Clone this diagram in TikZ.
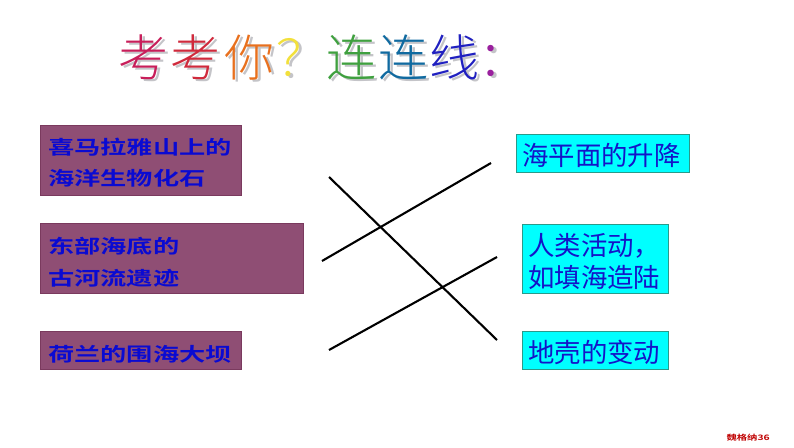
\documentclass[tikz,border=0pt]{standalone}
\usepackage{fontspec}
\setmainfont{Noto Sans CJK SC}
\newfontfamily\cjkreg{Noto Sans CJK SC}
\newfontfamily\cjkbold{Noto Sans CJK SC Bold}[FakeStretch=1.38]
\newfontfamily\cjklight{Noto Sans CJK SC Light}
\definecolor{leftfill}{HTML}{8F4E74}
\definecolor{leftedge}{HTML}{7A3A5E}
\definecolor{rightfill}{HTML}{00FFFF}
\definecolor{rightedge}{HTML}{2A9A8A}
\definecolor{lefttext}{HTML}{0A0AD2}
\definecolor{righttext}{HTML}{1414C8}
\definecolor{tA}{HTML}{C81E5A}
\definecolor{tB}{HTML}{D02A3C}
\definecolor{tC}{HTML}{E8701E}
\definecolor{tD}{HTML}{F2E03C}
\definecolor{tE}{HTML}{3FA03F}
\definecolor{tF}{HTML}{106AA0}
\definecolor{tG}{HTML}{2020C0}
\definecolor{tH}{HTML}{9A209E}
\definecolor{tshadow}{HTML}{C4C4C8}
\tikzset{
  leftbox/.style={draw=leftedge,fill=leftfill,line width=1pt},
  rightbox/.style={draw=rightedge,fill=rightfill,line width=1pt},
  lefttxt/.style={anchor=west,inner sep=0pt,text=lefttext,font=\cjkbold\fontsize{19}{19}\selectfont},
  righttxt/.style={anchor=west,inner sep=0pt,text=righttext,font=\cjkreg\fontsize{26.4}{26.4}\selectfont},
  crossline/.style={draw=black,line width=2.1pt},
  titletxt/.style={anchor=west,inner sep=0pt,font=\cjklight\fontsize{50}{50}\selectfont}
}
\newcommand{\tch}[3]{\makebox[#1pt][l]{\textcolor{#2}{#3}}}
\newcommand{\titlerow}[8]{%
  \tch{52}{#1}{考}\tch{54}{#2}{考}\tch{52}{#3}{你}\tch{50}{#4}{？}%
  \tch{52}{#5}{连}\tch{51}{#6}{连}\tch{49}{#7}{线}\tch{50}{#8}{：}}
\begin{document}
\begin{tikzpicture}[x=1pt,y=-1pt]
\useasboundingbox (0,0) rectangle (794,447);
% title: shadow row, then coloured row
\node[titletxt] (titleshadow) at (121,59) {\titlerow{tshadow}{tshadow}{tshadow}{tshadow}{tshadow}{tshadow}{tshadow}{tshadow}};
\node[titletxt] (title) at (118,57) {\titlerow{tA}{tB}{tC}{tD}{tE}{tF}{tG}{tH}};
% left boxes
\path[leftbox] (40,125) rectangle (241,195);
\path[leftbox] (40,223) rectangle (303,293);
\path[leftbox] (40,331) rectangle (241,369);
\node[lefttxt] (l1a) at (48,147) {喜马拉雅山上的};
\node[lefttxt] (l1b) at (48,178) {海洋生物化石};
\node[lefttxt] (l2a) at (48,246) {东部海底的};
\node[lefttxt] (l2b) at (48,278) {古河流遗迹};
\node[lefttxt] (l3) at (48,354) {荷兰的围海大坝};
% right boxes
\path[rightbox] (516,134) rectangle (689,172);
\path[rightbox] (522,224) rectangle (668,293);
\path[rightbox] (522,331) rectangle (668,369);
\node[righttxt] (r1) at (522,155) {海平面的升降};
\node[righttxt] (r2a) at (528,246) {人类活动，};
\node[righttxt] (r2b) at (528,277) {如填海造陆};
\node[righttxt] (r3) at (528,352) {地壳的变动};
% lines
\coordinate (a1) at (329,177); \coordinate (a2) at (497,340);
\coordinate (b1) at (322,261); \coordinate (b2) at (491,163);
\coordinate (c1) at (329,350); \coordinate (c2) at (497,257);
\draw[crossline] (a1) -- (a2);
\draw[crossline] (b1) -- (b2);
\draw[crossline] (c1) -- (c2);
% footer
\node[inner sep=0pt,anchor=east,text=red!75!black,font=\cjkbold\fontsize{7.5}{7.5}\selectfont] (foot) at (770,438) {魏格纳36};
\end{tikzpicture}
\end{document}
